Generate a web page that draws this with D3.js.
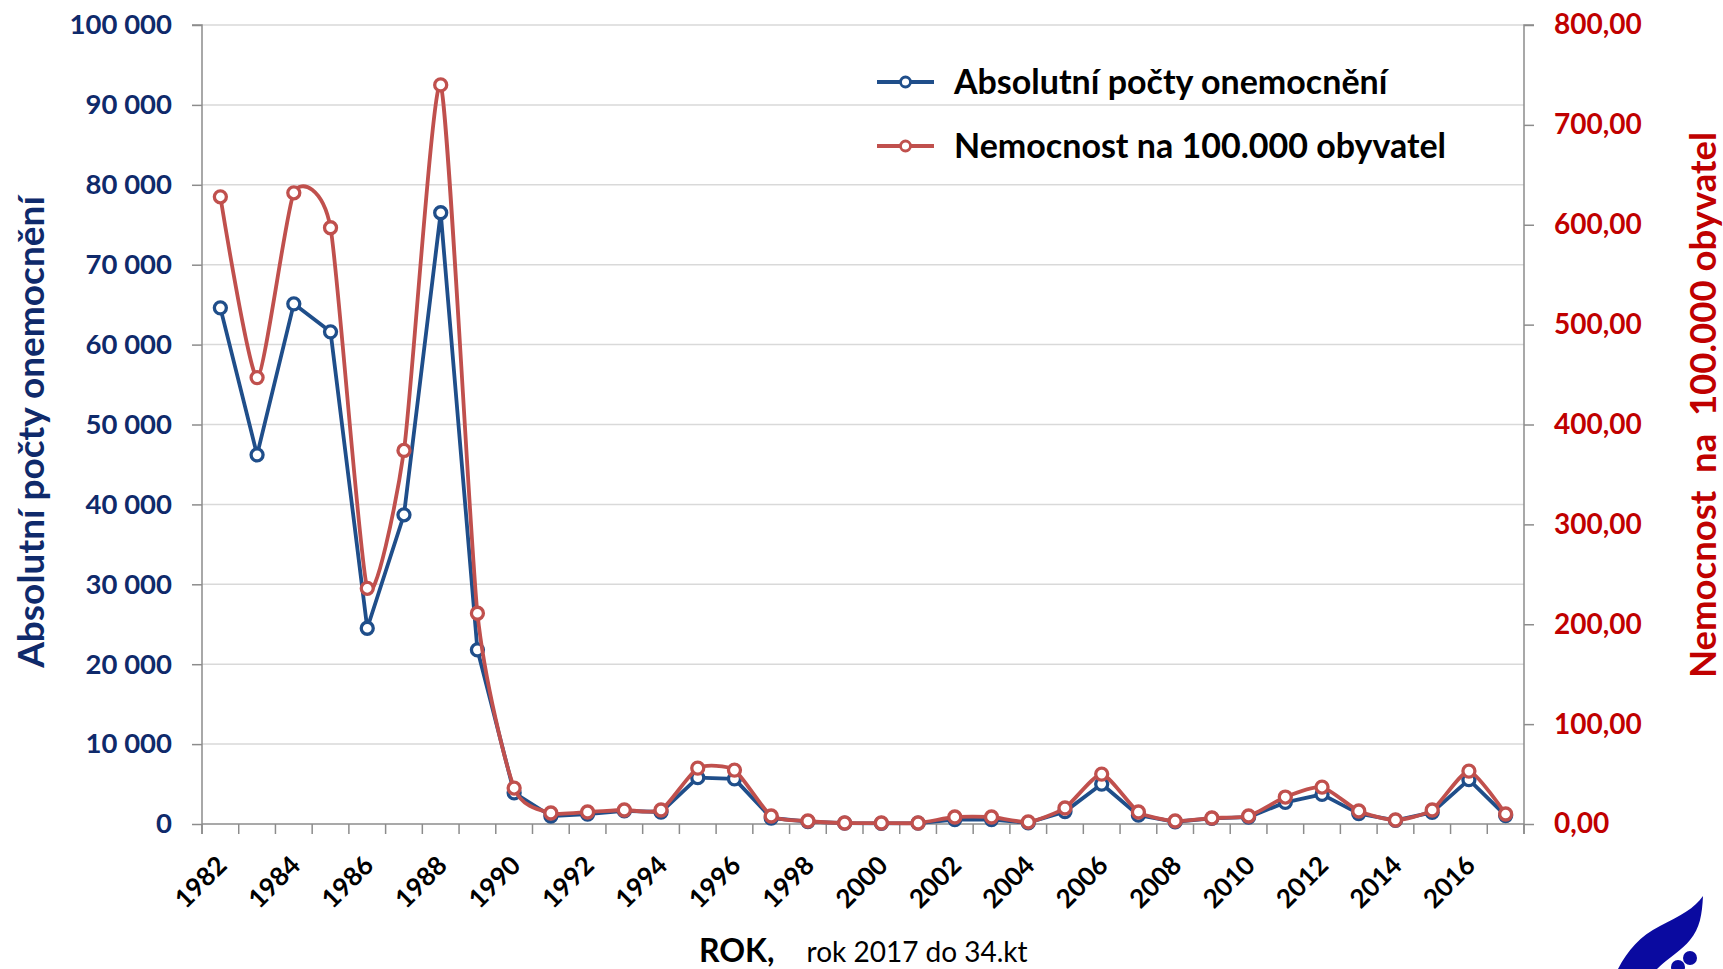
<!DOCTYPE html>
<html>
<head>
<meta charset="utf-8">
<script src="https://cdn.jsdelivr.net/npm/d3@7"></script>
<style>
  html, body { margin: 0; padding: 0; background: #fff; }
  svg { display: block; }
</style>
</head>
<body>
<svg id="chart" width="1723" height="969"></svg>
<script>
// data
const years = d3.range(1982, 2018);
const absolutni = [
  64600, 46200, 65100, 61600, 24500, 38700, 76500, 21800, 3900, 1000,
  1250, 1650, 1500, 5800, 5650, 750, 300, 100, 80, 100,
  550, 550, 150, 1550, 5000, 1100, 280, 700, 850, 2700,
  3700, 1300, 450, 1450, 5550, 1050
];
const nemocnost = [
  628, 447, 632, 597, 236, 374, 740, 211, 36, 11,
  12, 14, 14, 56, 54, 8, 3, 1, 1, 1,
  7, 7, 2, 16, 50, 12, 3, 6, 8, 27,
  37, 13, 4, 14, 53, 10
];
const leftTicks = d3.range(0, 100001, 10000);
const rightTicks = d3.range(0, 801, 100);
const labelYears = d3.range(1982, 2017, 2);

const W = 1723, H = 969;
const margin = { top: 25, right: 199, bottom: 145, left: 202 };
const innerW = W - margin.left - margin.right;
const innerH = H - margin.top - margin.bottom;

const font = "Lato, 'Open Sans', sans-serif";
const navy = "#0F2A6B";
const red = "#C00000";
const blueLine = "#1F4E8A";
const redLine = "#C0504D";
const axisGray = "#8C8C8C";

const svg = d3.select("#chart");
const g = svg.append("g").attr("transform", `translate(${margin.left},${margin.top})`);

const x = d3.scaleBand().domain(years).range([0, innerW]);
const yL = d3.scaleLinear().domain([0, 100000]).range([innerH, 0]);
const yR = d3.scaleLinear().domain([0, 800]).range([innerH, 0]);
const cx = d => x(d) + x.bandwidth() / 2;

// gridlines
g.append("g")
  .selectAll("line")
  .data(leftTicks.slice(1))
  .join("line")
  .attr("x1", 0).attr("x2", innerW)
  .attr("y1", d => yL(d)).attr("y2", d => yL(d))
  .attr("stroke", "#D9D9D9")
  .attr("stroke-width", 1.5);

const fmtL = d => d3.format(",")(d).replace(/,/g, " ");
const fmtR = d => d3.format(".2f")(d).replace(".", ",");

// left axis
const axL = g.append("g")
  .call(d3.axisLeft(yL).tickValues(leftTicks).tickFormat(fmtL).tickSize(10).tickPadding(20));
axL.select(".domain").attr("stroke", axisGray).attr("stroke-width", 1.5).attr("d", `M-10,0H0V${innerH + 10}`);
axL.selectAll(".tick line").attr("stroke", axisGray).attr("stroke-width", 1.5);
axL.selectAll(".tick text")
  .attr("font-family", font).attr("font-size", 27.5).attr("font-weight", "bold")
  .attr("fill", navy);

// right axis
const axR = g.append("g")
  .attr("transform", `translate(${innerW},0)`)
  .call(d3.axisRight(yR).tickValues(rightTicks).tickFormat(fmtR).tickSize(10).tickPadding(20));
axR.select(".domain").attr("stroke", axisGray).attr("stroke-width", 1.5).attr("d", `M10,0H0V${innerH + 10}`);
axR.selectAll(".tick line").attr("stroke", axisGray).attr("stroke-width", 1.5);
axR.selectAll(".tick text")
  .attr("font-family", font).attr("font-size", 28).attr("font-weight", "bold")
  .attr("fill", red);

// x axis: ticks at category boundaries
const axX = g.append("g").attr("transform", `translate(0,${innerH})`);
axX.append("line")
  .attr("x1", 0).attr("x2", innerW)
  .attr("stroke", axisGray).attr("stroke-width", 1.5);
axX.selectAll("line.tk")
  .data(years.concat([2018]))
  .join("line")
  .attr("class", "tk")
  .attr("x1", (d, i) => i * x.step()).attr("x2", (d, i) => i * x.step())
  .attr("y1", 0).attr("y2", 10)
  .attr("stroke", axisGray).attr("stroke-width", 1.5);
axX.selectAll("text")
  .data(labelYears)
  .join("text")
  .attr("transform", d => `translate(${cx(d) + 8},${43}) rotate(-45)`)
  .attr("text-anchor", "end")
  .attr("font-family", font).attr("font-size", 26).attr("font-weight", "bold")
  .attr("fill", "#000")
  .text(d => d);

// lines
const lineL = d3.line().x((d, i) => cx(years[i])).y(d => yL(d));
const lineR = d3.line().x((d, i) => cx(years[i])).y(d => yR(d)).curve(d3.curveCardinal.tension(0.4));

g.append("path").datum(absolutni)
  .attr("d", lineL).attr("fill", "none")
  .attr("stroke", blueLine).attr("stroke-width", 3.8).attr("stroke-linejoin", "round");
g.append("g").selectAll("circle")
  .data(absolutni).join("circle")
  .attr("cx", (d, i) => cx(years[i])).attr("cy", d => yL(d)).attr("r", 6)
  .attr("fill", "#fff").attr("stroke", blueLine).attr("stroke-width", 3.3);

g.append("path").datum(nemocnost)
  .attr("d", lineR).attr("fill", "none")
  .attr("stroke", redLine).attr("stroke-width", 3.8).attr("stroke-linejoin", "round");
g.append("g").selectAll("circle")
  .data(nemocnost).join("circle")
  .attr("cx", (d, i) => cx(years[i])).attr("cy", d => yR(d)).attr("r", 6)
  .attr("fill", "#fff").attr("stroke", redLine).attr("stroke-width", 3.3);

// legend
const legendItems = [
  { label: "Absolutní počty onemocnění", color: blueLine, y: 82 },
  { label: "Nemocnost na 100.000 obyvatel", color: redLine, y: 146 }
];
const lg = svg.append("g").selectAll("g").data(legendItems).join("g")
  .attr("transform", d => `translate(877,${d.y})`);
lg.append("line").attr("x1", 0).attr("x2", 57)
  .attr("stroke", d => d.color).attr("stroke-width", 3.8);
lg.append("circle").attr("cx", 28.5).attr("r", 5)
  .attr("fill", "#fff").attr("stroke", d => d.color).attr("stroke-width", 2.8);
lg.append("text").attr("x", 77).attr("dy", "0.36em")
  .attr("font-family", font).attr("font-size", 34).attr("font-weight", "bold")
  .attr("fill", "#000").text(d => d.label);

// axis titles
svg.append("text")
  .attr("transform", `translate(31,432) rotate(-90)`)
  .attr("text-anchor", "middle").attr("dy", "0.36em")
  .attr("font-family", font).attr("font-size", 37).attr("font-weight", "bold")
  .attr("fill", navy).text("Absolutní počty onemocnění");

svg.append("text")
  .attr("transform", `translate(1703,405) rotate(-90)`)
  .attr("text-anchor", "middle").attr("dy", "0.36em")
  .attr("font-family", font).attr("font-size", 36.5).attr("font-weight", "bold")
  .attr("fill", red)
  .style("white-space", "pre")
  .text("Nemocnost  na  100.000 obyvatel");

const xt = svg.append("text")
  .attr("x", 699).attr("y", 962)
  .attr("font-family", font).attr("fill", "#000");
xt.append("tspan").attr("font-size", 32).attr("font-weight", "bold").text("ROK,");
xt.append("tspan").attr("dx", 32).attr("font-size", 28).text("rok 2017 do 34.kt");

// logo fragment, bottom right
const logo = svg.append("g").attr("fill", "#0A0AA0");
logo.append("path")
  .attr("d", "M1618,969 C1628,950 1640,936 1660,926 C1680,916 1695,908 1703,896 C1702,915 1700,928 1690,940 C1682,950 1668,958 1657,969 Z");
logo.append("circle").attr("cx", 1690).attr("cy", 958).attr("r", 7);
logo.append("circle").attr("cx", 1678).attr("cy", 967).attr("r", 7);
</script>
</body>
</html>
